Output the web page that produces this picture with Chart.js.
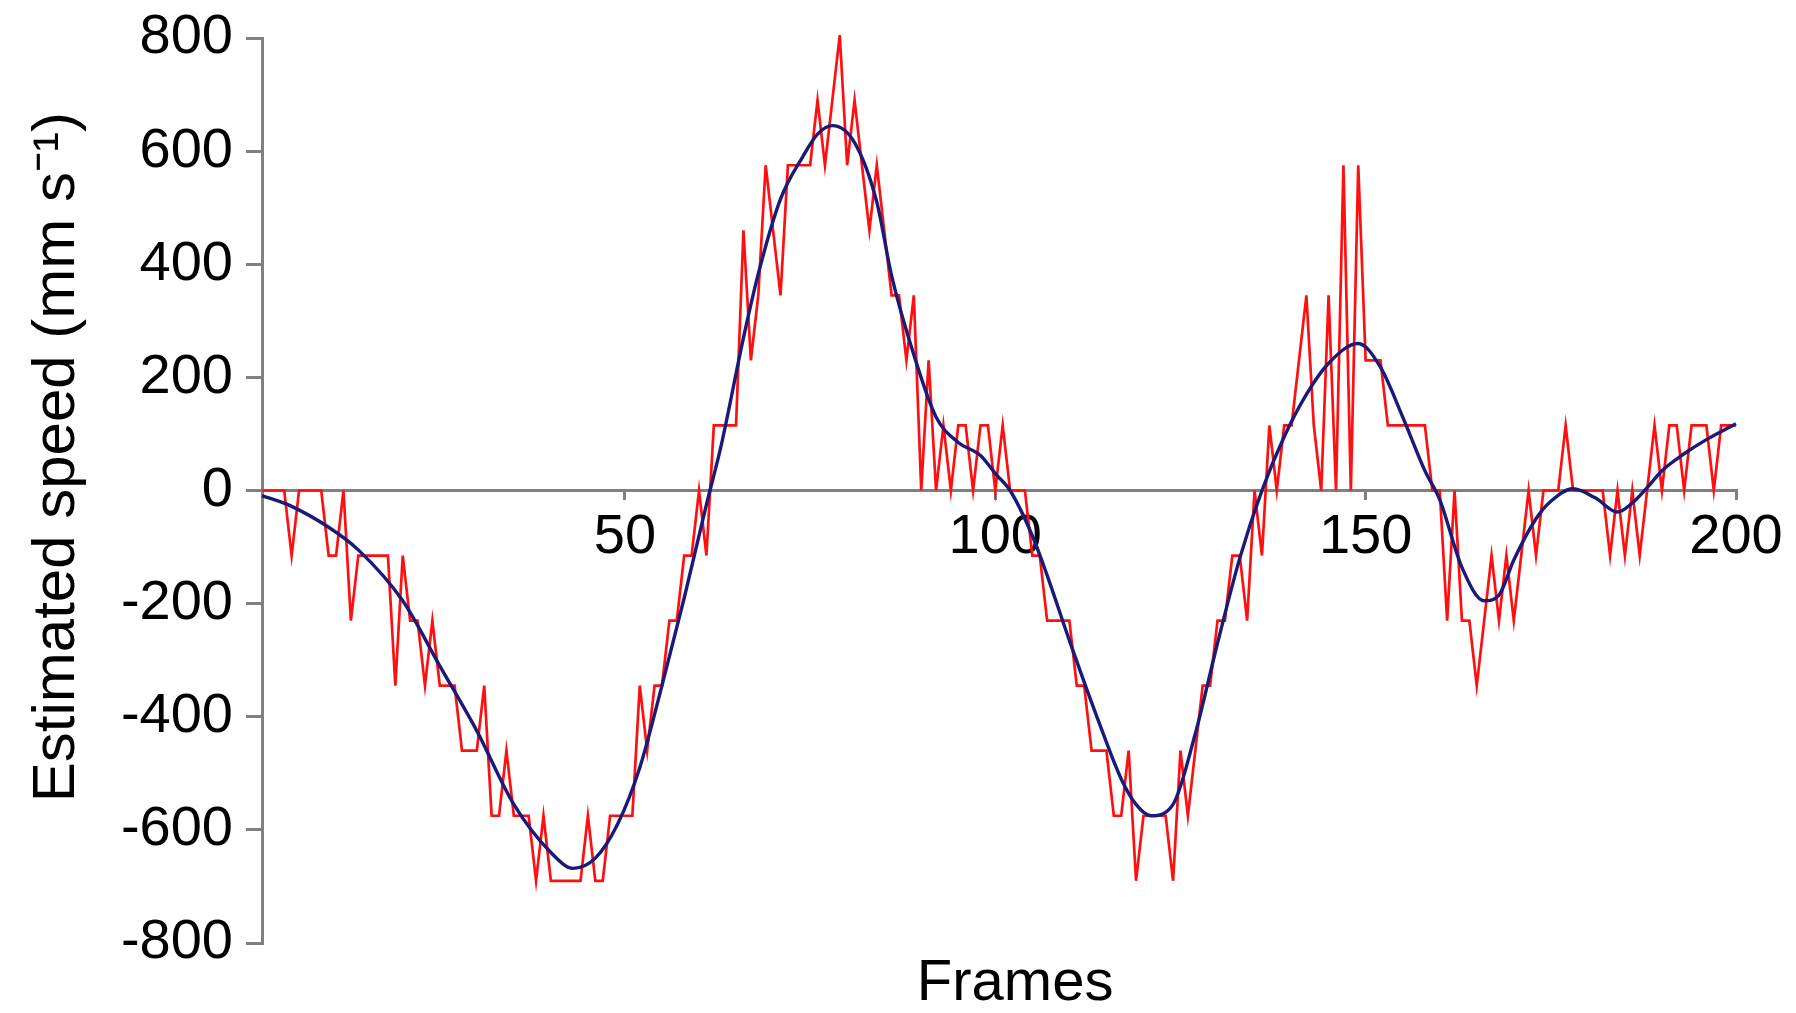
<!DOCTYPE html>
<html>
<head>
<meta charset="utf-8">
<script src="https://cdn.jsdelivr.net/npm/chart.js@4.4.1/dist/chart.umd.min.js"></script>
<style>
  html, body { margin: 0; padding: 0; background: #fff; }
  canvas { display: block; }
</style>
</head>
<body>
<canvas id="speedChart" width="1796" height="1013"></canvas>
<script>
const frames = Array.from({ length: 200 }, (_, i) => i + 1);

// raw estimate (quantised, ~115 mm/s steps)
const rawSpeed = [
    0, 0, 0, 0, -115, 0, 0, 0, 0, -115,
    -115, 0, -230, -115, -115, -115, -115, -115, -345, -115,
    -230, -230, -345, -230, -345, -345, -345, -460, -460, -460,
    -345, -575, -575, -460, -575, -575, -575, -690, -575, -690,
    -690, -690, -690, -690, -575, -690, -690, -575, -575, -575,
    -575, -345, -460, -345, -345, -230, -230, -115, -115, 0,
    -115, 115, 115, 115, 115, 460, 230, 345, 575, 460,
    345, 575, 575, 575, 575, 690, 575, 690, 805, 575,
    690, 575, 460, 575, 460, 345, 345, 230, 345, 0,
    230, 0, 115, 0, 115, 115, 0, 115, 115, 0,
    115, 0, 0, 0, -115, -115, -230, -230, -230, -230,
    -345, -345, -460, -460, -460, -575, -575, -460, -690, -575,
    -575, -575, -575, -690, -460, -575, -460, -345, -345, -230,
    -230, -115, -115, -230, 0, -115, 115, 0, 115, 115,
    230, 345, 115, 0, 345, 0, 575, 0, 575, 230,
    230, 230, 115, 115, 115, 115, 115, 115, 0, 0,
    -230, 0, -230, -230, -345, -230, -115, -230, -115, -230,
    -115, 0, -115, 0, 0, 0, 115, 0, 0, 0,
    0, 0, -115, 0, -115, 0, -115, 0, 115, 0,
    115, 115, 0, 115, 115, 115, 0, 115, 115, 115,
];

// smoothed curve, read at key frames
const smoothFrames = [1, 5, 10, 14, 20, 25, 30, 35, 40, 43, 46, 49, 52, 55, 58, 61, 63, 66, 68, 71,
    74, 76, 78, 81, 84, 86, 89, 92, 95, 98, 100, 102, 105, 107, 110, 114, 117, 119, 121, 124,
    127, 130, 133, 136, 139, 142, 145, 149, 152, 155, 158, 160, 163, 166, 168, 170, 173, 175, 178, 181,
    184, 186, 188, 190, 193, 196, 200];
const smoothSpeed = [-9, -28, -65, -105, -195, -310, -425, -555, -640, -668, -650, -590, -490, -345, -190, -25, 80, 270, 383, 515,
    590, 630, 645, 615, 510, 380, 240, 130, 85, 62, 30, 0, -80, -150, -265, -410, -510, -555, -575, -555,
    -430, -270, -120, 0, 95, 170, 225, 260, 218, 130, 35, -16, -136, -195, -185, -123, -50, -19, 3, -13,
    -38, -22, 5, 35, 65, 90, 118];

const xTicks = [50, 100, 150, 200];

const axisGrey = "#808080";
Chart.defaults.font.family = "'Liberation Sans', Arial, sans-serif";
Chart.defaults.color = "#000";

let ctx = document.getElementById("speedChart").getContext("2d");
let speedChart = new Chart(ctx, {
    type: "line",
    data: {
        labels: frames,
        datasets: [
            {
                label: "Smoothed",
                data: smoothFrames.map((f, i) => ({ x: f, y: smoothSpeed[i] })),
                borderColor: "#1a1a78",
                borderWidth: 3.4,
                pointRadius: 0,
                cubicInterpolationMode: "monotone",
                clip: 10,
            },
            {
                label: "Raw",
                data: rawSpeed,
                borderColor: "#ff1010",
                borderWidth: 2.7,
                pointRadius: 0,
                tension: 0,
                clip: 10,
            },
        ],
    },
    options: {
        responsive: false,
        animation: false,
        layout: { padding: { top: 38, right: 60, left: 0, bottom: 0 } },
        plugins: { legend: { display: false }, tooltip: { enabled: false } },
        scales: {
            x: {
                type: "linear",
                min: 1,
                max: 200,
                position: { y: 0 },
                afterBuildTicks: (s) => { s.ticks = xTicks.map((v) => ({ value: v })); },
                grid: { drawOnChartArea: false, tickLength: 8, color: axisGrey, lineWidth: 3 },
                border: { color: axisGrey, width: 3 },
                ticks: { font: { size: 56 }, padding: 5, maxRotation: 0, autoSkip: false },
            },
            x2: {
                type: "linear",
                position: "bottom",
                grid: { display: false },
                border: { display: false },
                ticks: { display: false },
                title: { display: true, text: "  Frames", font: { size: 58 }, padding: { top: 0, bottom: -6 } },
                afterFit: (s) => { s.height = 70; },
            },
            y: {
                min: -800,
                max: 800,
                ticks: { stepSize: 200, font: { size: 56 }, padding: 13 },
                grid: { drawOnChartArea: false, tickLength: 16, color: axisGrey, lineWidth: 3 },
                border: { color: axisGrey, width: 3 },
                title: { display: true, text: "    Estimated speed (mm s\u207B\u00B9)", font: { size: 60 }, padding: { top: 21, bottom: 0 } },
                afterFit: (s) => { s.width = 262; s.paddingTop = 20; s.paddingBottom = 20; },
            },
        },
    },
});
</script>
</body>
</html>
